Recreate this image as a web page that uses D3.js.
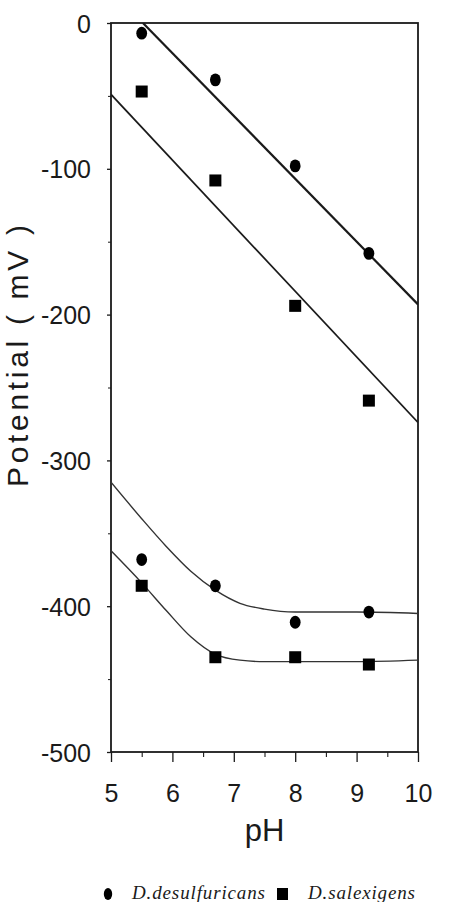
<!DOCTYPE html>
<html>
<head>
<meta charset="utf-8">
<script src="https://cdn.jsdelivr.net/npm/d3@7"></script>
<style>
  html, body { margin: 0; padding: 0; background: #fff; }
  svg { display: block; }
</style>
</head>
<body>
<svg id="chart" width="450" height="902"></svg>
<script>
// ---- data ----
const phPoints = [5.5, 6.7, 8.0, 9.2];
const desulfuricansHigh = [-7, -39, -98, -158];
const salexigensHigh = [-47, -108, -194, -259];
const desulfuricansLow = [-368, -386, -411, -404];
const salexigensLow = [-386, -435, -435, -440];

const fitDesulfHighPH = [5.52, 10];
const fitDesulfHighV = [0, -193];
const fitSalexHighPH = [5, 10];
const fitSalexHighV = [-49, -274];

const curvePH = [5, 5.5, 5.9, 6.3, 6.7, 7.1, 7.5, 8, 9, 10];
const curveDesulfLow = [-315, -340, -359, -376, -389, -398, -402, -404, -404, -405];
const curveSalexLow = [-362, -384, -403, -421, -433, -437, -438, -438, -438, -437];

const xTicks = [5, 6, 7, 8, 9, 10];
const xMinorTicks = [5.5, 6.5, 7.5, 8.5, 9.5];
const yTicks = [0, -100, -200, -300, -400, -500];
const yMinorTicks = [-50, -150, -250, -350, -450];

const legendLabels = ["D.desulfuricans", "D.salexigens"];

// ---- layout ----
const svg = d3.select("#chart");
const x = d3.scaleLinear().domain([5, 10]).range([111, 418]);
const y = d3.scaleLinear().domain([0, -500]).range([23, 752]);
const ink = "#1a1a1a";
const fmt = d => String(d);

// frame
svg.append("rect")
  .attr("x", x(5)).attr("y", y(0))
  .attr("width", x(10) - x(5)).attr("height", y(-500) - y(0))
  .attr("fill", "none").attr("stroke", ink).attr("stroke-width", 1.8);

// x axis
const xAxis = svg.append("g").attr("transform", `translate(0,${y(-500)})`)
  .call(d3.axisBottom(x).tickValues(xTicks).tickSize(10).tickFormat(fmt));
xAxis.select(".domain").remove();
xAxis.selectAll(".tick line").attr("stroke", ink).attr("stroke-width", 1.3);
xAxis.selectAll(".tick text")
  .attr("y", 50).attr("dy", 0)
  .attr("font-family", "Liberation Sans, Arial, sans-serif")
  .attr("font-size", 25).attr("fill", ink);
const xMinor = svg.append("g").attr("transform", `translate(0,${y(-500)})`)
  .call(d3.axisBottom(x).tickValues(xMinorTicks).tickSize(5).tickFormat(""));
xMinor.select(".domain").remove();
xMinor.selectAll(".tick line").attr("stroke", ink).attr("stroke-width", 1.1);

// y axis
const yAxis = svg.append("g").attr("transform", `translate(${x(5)},0)`)
  .call(d3.axisLeft(y).tickValues(yTicks).tickSize(4).tickFormat(fmt));
yAxis.select(".domain").remove();
yAxis.selectAll(".tick line").attr("stroke", ink).attr("stroke-width", 1.3);
yAxis.selectAll(".tick text")
  .attr("x", -20).attr("dy", "0.36em")
  .attr("font-family", "Liberation Sans, Arial, sans-serif")
  .attr("font-size", 25).attr("fill", ink);
const yMinor = svg.append("g").attr("transform", `translate(${x(5)},0)`)
  .call(d3.axisLeft(y).tickValues(yMinorTicks).tickSize(3).tickFormat(""));
yMinor.select(".domain").remove();
yMinor.selectAll(".tick line").attr("stroke", ink).attr("stroke-width", 1);

// axis titles
svg.append("text")
  .attr("x", (x(5) + x(10)) / 2).attr("y", 841)
  .attr("text-anchor", "middle")
  .attr("font-family", "Liberation Sans, Arial, sans-serif")
  .attr("font-size", 31).attr("fill", ink)
  .text("pH");
svg.append("text")
  .attr("transform", "translate(28,356) rotate(-90)")
  .attr("text-anchor", "middle")
  .attr("font-family", "Liberation Sans, Arial, sans-serif")
  .attr("font-size", 30).attr("fill", ink)
  .attr("textLength", 262).attr("lengthAdjust", "spacing")
  .text("Potential ( mV )");

// clip
svg.append("clipPath").attr("id", "plotclip").append("rect")
  .attr("x", x(5)).attr("y", y(0))
  .attr("width", x(10) - x(5)).attr("height", y(-500) - y(0));
const plot = svg.append("g").attr("clip-path", "url(#plotclip)");

const line = d3.line().x(d => x(d[0])).y(d => y(d[1]));
const smooth = d3.line().x(d => x(d[0])).y(d => y(d[1])).curve(d3.curveMonotoneX);

plot.append("path")
  .attr("d", line(d3.zip(fitDesulfHighPH, fitDesulfHighV)))
  .attr("fill", "none").attr("stroke", ink).attr("stroke-width", 2.2);
plot.append("path")
  .attr("d", line(d3.zip(fitSalexHighPH, fitSalexHighV)))
  .attr("fill", "none").attr("stroke", ink).attr("stroke-width", 1.7);
plot.append("path")
  .attr("d", smooth(d3.zip(curvePH, curveDesulfLow)))
  .attr("fill", "none").attr("stroke", "#333").attr("stroke-width", 1.4);
plot.append("path")
  .attr("d", smooth(d3.zip(curvePH, curveSalexLow)))
  .attr("fill", "none").attr("stroke", "#333").attr("stroke-width", 1.4);

// markers
function circles(vals) {
  svg.append("g").selectAll("ellipse").data(d3.zip(phPoints, vals)).join("ellipse")
    .attr("cx", d => x(d[0])).attr("cy", d => y(d[1]))
    .attr("rx", 5.4).attr("ry", 6.4).attr("fill", "#000");
}
function squares(vals) {
  svg.append("g").selectAll("rect").data(d3.zip(phPoints, vals)).join("rect")
    .attr("x", d => x(d[0]) - 6).attr("y", d => y(d[1]) - 6)
    .attr("width", 12).attr("height", 12).attr("fill", "#000");
}
circles(desulfuricansHigh);
circles(desulfuricansLow);
squares(salexigensHigh);
squares(salexigensLow);

// legend
const lg = svg.append("g");
lg.append("ellipse").attr("cx", 108).attr("cy", 894).attr("rx", 4.2).attr("ry", 6).attr("fill", "#000");
lg.append("text").attr("x", 132).attr("y", 899)
  .attr("font-family", "Liberation Serif, Times New Roman, serif")
  .attr("font-style", "italic").attr("font-size", 19).attr("fill", ink)
  .attr("textLength", 133).attr("lengthAdjust", "spacing")
  .text(legendLabels[0]);
lg.append("rect").attr("x", 277).attr("y", 888).attr("width", 11).attr("height", 12).attr("fill", "#000");
lg.append("text").attr("x", 308).attr("y", 899)
  .attr("font-family", "Liberation Serif, Times New Roman, serif")
  .attr("font-style", "italic").attr("font-size", 19).attr("fill", ink)
  .attr("textLength", 107).attr("lengthAdjust", "spacing")
  .text(legendLabels[1]);
</script>
</body>
</html>
